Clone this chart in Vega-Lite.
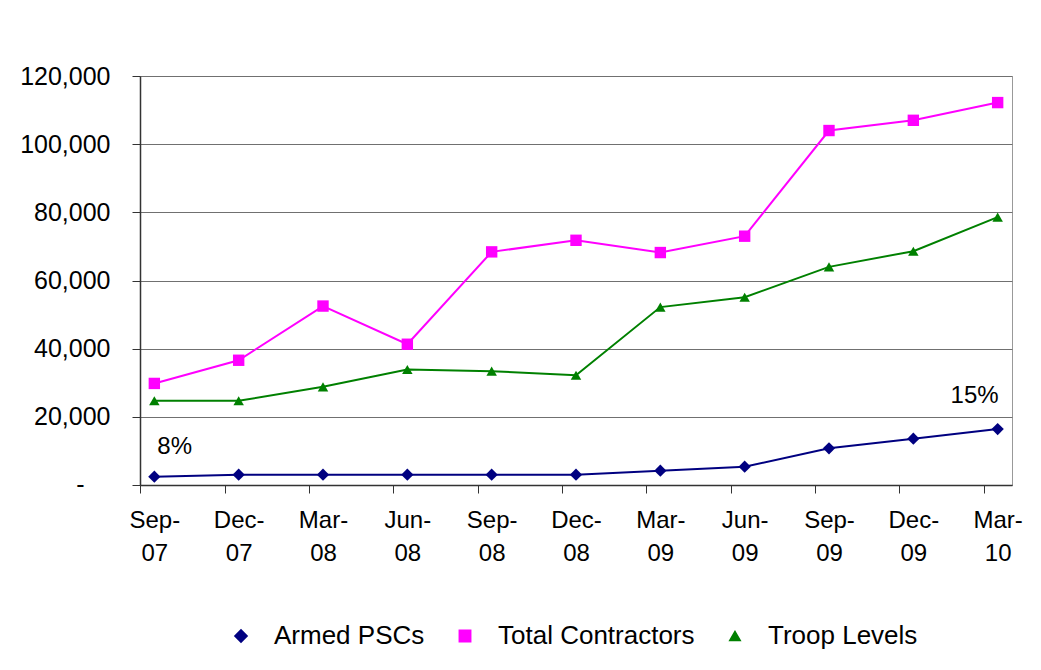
{
  "$schema": "https://vega.github.io/schema/vega-lite/v6.json",
  "autosize": {"type": "none"},
  "width": 872,
  "height": 409,
  "padding": {"left": 140, "top": 76, "right": 29, "bottom": 185},
  "background": "white",
  "config": {
    "font": "Liberation Sans",
    "view": {"stroke": "#999999", "strokeWidth": 1},
    "axis": {"labelFont": "Liberation Sans", "labelFontSize": 24, "labelColor": "#000000", "domainColor": "#333333", "tickColor": "#333333", "gridColor": "#707070", "gridOpacity": 1, "domainWidth": 1.5, "tickWidth": 1},
    "legend": {"labelFont": "Liberation Sans", "labelFontSize": 26, "labelColor": "#000000"}
  },
  "datasets": {
    "series": [
      {"d": "Sep-07", "s": "Armed PSCs", "v": 2440},
      {"d": "Dec-07", "s": "Armed PSCs", "v": 3020},
      {"d": "Mar-08", "s": "Armed PSCs", "v": 3020},
      {"d": "Jun-08", "s": "Armed PSCs", "v": 3020},
      {"d": "Sep-08", "s": "Armed PSCs", "v": 3020},
      {"d": "Dec-08", "s": "Armed PSCs", "v": 3020},
      {"d": "Mar-09", "s": "Armed PSCs", "v": 4200},
      {"d": "Jun-09", "s": "Armed PSCs", "v": 5370},
      {"d": "Sep-09", "s": "Armed PSCs", "v": 10770},
      {"d": "Dec-09", "s": "Armed PSCs", "v": 13590},
      {"d": "Mar-10", "s": "Armed PSCs", "v": 16430},
      {"d": "Sep-07", "s": "Total Contractors", "v": 29800},
      {"d": "Dec-07", "s": "Total Contractors", "v": 36600},
      {"d": "Mar-08", "s": "Total Contractors", "v": 52500},
      {"d": "Jun-08", "s": "Total Contractors", "v": 41300},
      {"d": "Sep-08", "s": "Total Contractors", "v": 68400},
      {"d": "Dec-08", "s": "Total Contractors", "v": 71800},
      {"d": "Mar-09", "s": "Total Contractors", "v": 68200},
      {"d": "Jun-09", "s": "Total Contractors", "v": 73000},
      {"d": "Sep-09", "s": "Total Contractors", "v": 104000},
      {"d": "Dec-09", "s": "Total Contractors", "v": 107000},
      {"d": "Mar-10", "s": "Total Contractors", "v": 112200},
      {"d": "Sep-07", "s": "Troop Levels", "v": 24700},
      {"d": "Dec-07", "s": "Troop Levels", "v": 24700},
      {"d": "Mar-08", "s": "Troop Levels", "v": 28800},
      {"d": "Jun-08", "s": "Troop Levels", "v": 33900},
      {"d": "Sep-08", "s": "Troop Levels", "v": 33400},
      {"d": "Dec-08", "s": "Troop Levels", "v": 32200},
      {"d": "Mar-09", "s": "Troop Levels", "v": 52200},
      {"d": "Jun-09", "s": "Troop Levels", "v": 55100},
      {"d": "Sep-09", "s": "Troop Levels", "v": 64000},
      {"d": "Dec-09", "s": "Troop Levels", "v": 68600},
      {"d": "Mar-10", "s": "Troop Levels", "v": 78600}
    ]
  },
  "encoding": {
    "x": {
      "field": "d", "type": "ordinal", "sort": null,
      "scale": {"type": "point", "padding": 0.17},
      "axis": {"title": null, "labelAngle": 0, "tickSize": 8, "tickOffset": -14, "labelOffset": 14, "labelPadding": 15, "labelLineHeight": 33, "labelExpr": "[slice(datum.value, 0, 4), slice(datum.value, 4)]", "grid": false}
    },
    "y": {
      "field": "v", "type": "quantitative",
      "scale": {"domain": [0, 120000], "nice": false},
      "axis": {"title": null, "values": [0, 20000, 40000, 60000, 80000, 100000, 120000], "tickSize": 8, "labelPadding": 22, "labelFontSize": 25, "grid": true, "labelExpr": "datum.value === 0 ? '' : format(datum.value, ',')"}
    }
  },
  "layer": [
    {
      "data": {"name": "series"},
      "mark": {"type": "line", "strokeWidth": 2},
      "encoding": {
        "color": {"field": "s", "type": "nominal", "scale": {"domain": ["Armed PSCs", "Total Contractors", "Troop Levels"], "range": ["#000080", "#FF00FF", "#008000"]}, "legend": {"title": null, "orient": "none", "direction": "horizontal", "legendX": 88, "legendY": 547, "symbolSize": 150, "labelLimit": 400, "labelOffset": 20, "columnPadding": 27}}
      }
    },
    {
      "data": {"name": "series"},
      "mark": {"type": "point", "filled": true, "opacity": 1},
      "encoding": {
        "color": {"field": "s", "type": "nominal"},
        "shape": {"field": "s", "type": "nominal", "scale": {"domain": ["Armed PSCs", "Total Contractors", "Troop Levels"], "range": ["diamond", "square", "triangle-up"]}, "legend": null},
        "size": {"field": "s", "type": "nominal", "scale": {"domain": ["Armed PSCs", "Total Contractors", "Troop Levels"], "range": [150, 110, 150]}, "legend": null}
      }
    },
    {
      "data": {"values": [{"d": "Sep-07", "v": 0, "t": "-"}]},
      "mark": {"type": "text", "align": "center", "baseline": "middle", "dx": -74, "fontSize": 25, "font": "Liberation Sans", "color": "#000000"},
      "encoding": {"text": {"field": "t"}}
    },
    {
      "data": {"values": [{"d": "Sep-07", "v": 11150, "t": "8%"}]},
      "mark": {"type": "text", "align": "left", "baseline": "middle", "dx": 3, "fontSize": 24, "font": "Liberation Sans", "color": "#000000"},
      "encoding": {"text": {"field": "t"}}
    },
    {
      "data": {"values": [{"d": "Mar-10", "v": 26100, "t": "15%"}]},
      "mark": {"type": "text", "align": "right", "baseline": "middle", "dx": 1, "fontSize": 24, "font": "Liberation Sans", "color": "#000000"},
      "encoding": {"text": {"field": "t"}}
    }
  ]
}
